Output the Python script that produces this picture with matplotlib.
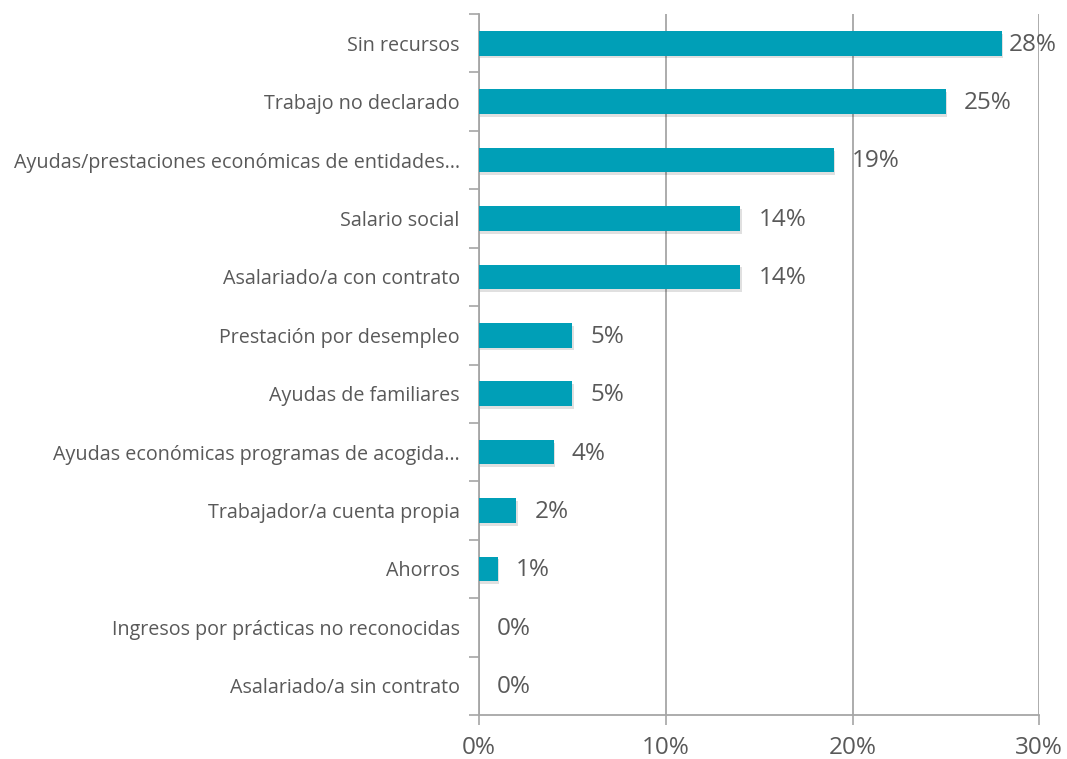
import matplotlib.pyplot as plt
import matplotlib.patheffects as pe
import numpy as np

# --- Data ---
categories = [
    'Sin recursos',
    'Trabajo no declarado',
    'Ayudas/prestaciones económicas de entidades…',
    'Salario social',
    'Asalariado/a con contrato',
    'Prestación por desempleo',
    'Ayudas de familiares',
    'Ayudas económicas programas de acogida…',
    'Trabajador/a cuenta propia',
    'Ahorros',
    'Ingresos por prácticas no reconocidas',
    'Asalariado/a sin contrato',
]
values = [28, 25, 19, 14, 14, 5, 5, 4, 2, 1, 0, 0]
xticks = [0, 10, 20, 30]

plt.rcParams['font.family'] = ['Open Sans', 'DejaVu Sans']

bar_color = '#009FB7'
text_color = '#595959'
line_color = '#A6A6A6'

fig = plt.figure(figsize=(10.67, 7.59), dpi=100)
ax = fig.add_axes([0.449, 0.058, 0.525, 0.9235])

y = np.arange(len(categories))[::-1]
bars = ax.barh(y, values, height=0.42, color=bar_color, zorder=3)
for b in bars:
    b.set_path_effects([pe.SimplePatchShadow(offset=(1, -2), shadow_rgbFace='#000000', alpha=0.12),
                        pe.Normal()])

# value labels; the longest bar's label sits closer so it stays inside the figure
for yi, v in zip(y, values):
    off = 5 if v == max(values) else 13
    ax.annotate(f'{v}%', (v, yi), xytext=(off, -1), textcoords='offset points',
                ha='left', va='center', fontsize=17.5, color=text_color, zorder=4)

ax.set_xlim(0, 30)
ax.set_ylim(-0.5, len(categories) - 0.5)
ax.set_xticks(xticks)
ax.set_xticklabels([f'{t}%' for t in xticks], fontsize=17.5, color=text_color)
ax.set_yticks(y)
ax.set_yticklabels(categories, fontsize=14.2, color=text_color)
ax.set_yticks(np.arange(len(categories) + 1) - 0.5, minor=True)

ax.tick_params(axis='y', which='major', length=0, pad=14)
ax.tick_params(axis='y', which='minor', length=7, width=1.2, color=line_color, direction='out')
ax.tick_params(axis='x', length=7, width=1.2, color=line_color, direction='out', pad=8)

ax.grid(axis='x', color=line_color, linewidth=1.3, zorder=0)
for s in ['top', 'right']:
    ax.spines[s].set_visible(False)
for s in ['left', 'bottom']:
    ax.spines[s].set_color(line_color)
    ax.spines[s].set_linewidth(1.3)

fig.savefig('out.png', dpi=100)
